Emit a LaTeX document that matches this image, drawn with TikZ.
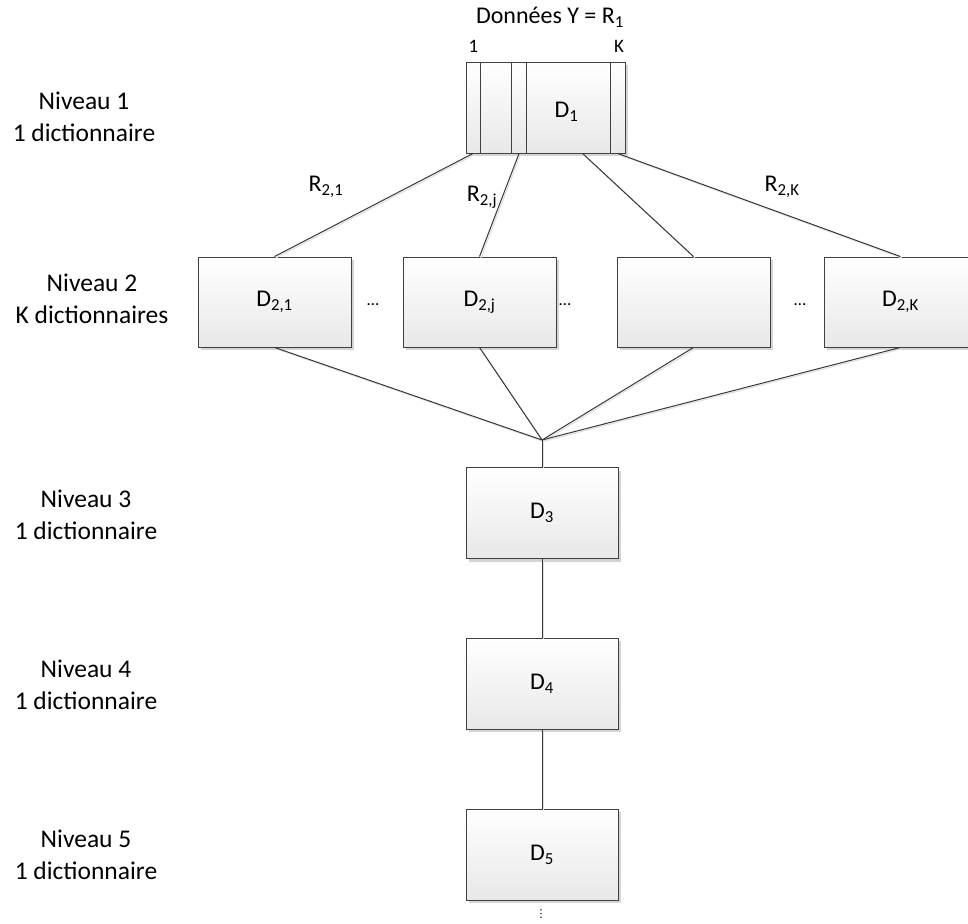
\documentclass[tikz,border=0pt]{standalone}
\usepackage{fontspec}
\setmainfont{Carlito}
\newfontfamily\dejavu{DejaVu Sans}
\usetikzlibrary{positioning,calc,shadows}

\begin{document}
\begin{tikzpicture}[x=1pt,y=-1pt,on grid,font=\fontsize{24}{31}\selectfont]
  \tikzset{dico/.style={draw=black!75,line width=0.9pt,rectangle,top color=white,bottom color=black!9,
      minimum width=153pt,minimum height=90pt,inner sep=0pt,
      drop shadow={shadow xshift=3pt,shadow yshift=-3pt,fill=black!17,opacity=1}},
    niveau/.style={align=center,font=\fontsize{25.5}{31.5}\selectfont},
    small/.style={font=\fontsize{19}{19}\selectfont},
    wire/.style={draw=black!78,line width=1pt,
      preaction={draw=black!12,line width=1.2pt,transform canvas={shift={(1.3pt,-1.3pt)}}}}}
  \useasboundingbox (0,0) rectangle (968,923);
  \clip (0,0) rectangle (968,923);

  % niveau 1
  \node[dico,minimum width=159pt,minimum height=91pt] (d1) at (545.5,107.5) {};
  \foreach \dx in {15,46,61,145}
    \draw[draw=black!75,line width=0.9pt] ($(d1.north west)+(\dx,0)$) -- ($(d1.south west)+(\dx,0)$);
  \node (d1txt) at ($(d1.center)+(21,4)$) {D\textsubscript{1}};
  \node (donnees) at (550,17) {Données Y = R\textsubscript{1}};
  \node[small] (un) at (473.5,46) {1};
  \node[small] (k) at (619,46) {K};

  % niveau 2
  \node[dico] (d21) at (274.5,302) {D\textsubscript{2,1}};
  \node[dico] (d2j) [right = 205pt of d21] {D\textsubscript{2,j}};
  \node[dico] (d2x) [right = 214pt of d2j] {};
  \node[dico] (d2K) [right = 207pt of d2x] {D\textsubscript{2,K}};
  \node (dots1) at (373,305) {\fontsize{17}{17}\selectfont …};
  \node (dots2) at (565,305) {\fontsize{17}{17}\selectfont …};
  \node (dots3) at (800,305) {\fontsize{17}{17}\selectfont …};

  % niveaux 3 a 5
  \node[dico,minimum width=152pt,minimum height=91pt] (d3) at (542,513) {D\textsubscript{3}};
  \node[dico,minimum width=152pt,minimum height=91pt] (d4) [below = 170.5pt of d3] {D\textsubscript{4}};
  \node[dico,minimum width=152pt,minimum height=91pt] (d5) [below = 171pt of d4] {D\textsubscript{5}};
  \node (vdots) at (541,914) {\dejavu\fontsize{11}{11}\selectfont ⋮};
  \coordinate (j) at (542,440);

  % niveaux a gauche
  \node[niveau] (n1) at (84,117) {Niveau 1\\1 dictionnaire};
  \node[niveau] (n2) at (92,299) {Niveau 2\\K dictionnaires};
  \node[niveau] (n3) at (86,515) {Niveau 3\\1 dictionnaire};
  \node[niveau] (n4) at (86,685) {Niveau 4\\1 dictionnaire};
  \node[niveau] (n5) at (86,855) {Niveau 5\\1 dictionnaire};

  % liaisons
  \draw[wire] ($(d1.south west)+(7.5,0)$) -- (d21.north);
  \draw[wire] ($(d1.south west)+(53.5,0)$) -- (d2j.north);
  \draw[wire] ($(d1.south west)+(117,0)$) -- (d2x.north);
  \draw[wire] ($(d1.south west)+(152,0)$) -- (d2K.north);
  \draw[wire] (d21.south) -- (j);
  \draw[wire] (d2j.south) -- (j);
  \draw[wire] (d2x.south) -- (j);
  \draw[wire] (d2K.south) -- (j);
  \draw[wire] (j) -- (d3.north);
  \draw[wire] (d3.south) -- (d4.north);
  \draw[wire] (d4.south) -- (d5.north);
  \node (r21) at (326,187) {R\textsubscript{2,1}};
  \node (r2j) at (482,197) {R\textsubscript{2,j}};
  \node (r2K) at (782,187) {R\textsubscript{2,K}};
\end{tikzpicture}
\end{document}
